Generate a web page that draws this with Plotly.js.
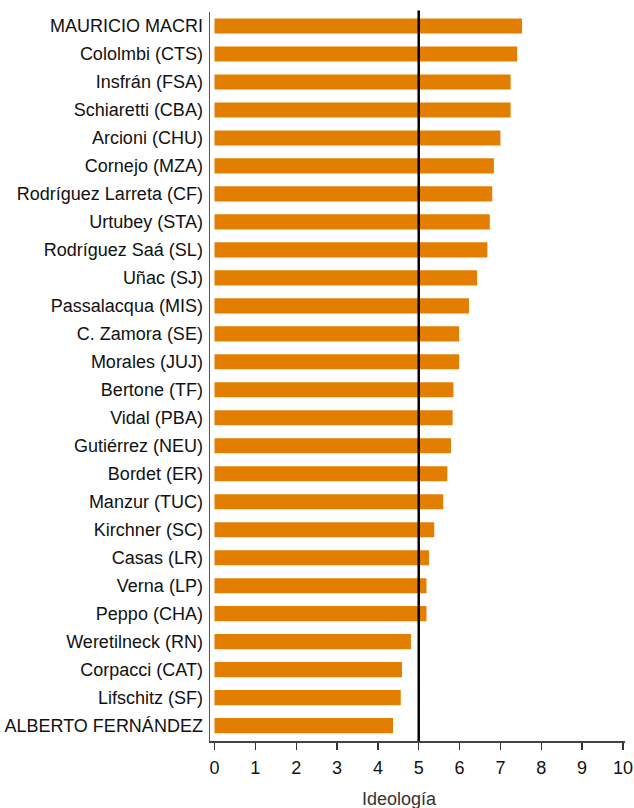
<!DOCTYPE html>
<html>
<head>
<meta charset="utf-8">
<script src="https://cdn.plot.ly/plotly-3.0.1.min.js"></script>
<style>html,body{margin:0;padding:0;background:#fff;}#chart{width:634px;height:808px;}</style>
</head>
<body>
<div id="chart"></div>
<script>
var names = [
  "MAURICIO MACRI", "Cololmbi (CTS)", "Insfrán (FSA)", "Schiaretti (CBA)", "Arcioni (CHU)",
  "Cornejo (MZA)", "Rodríguez Larreta (CF)", "Urtubey (STA)", "Rodríguez Saá (SL)", "Uñac (SJ)",
  "Passalacqua (MIS)", "C. Zamora (SE)", "Morales (JUJ)", "Bertone (TF)", "Vidal (PBA)",
  "Gutiérrez (NEU)", "Bordet (ER)", "Manzur (TUC)", "Kirchner (SC)", "Casas (LR)",
  "Verna (LP)", "Peppo (CHA)", "Weretilneck (RN)", "Corpacci (CAT)", "Lifschitz (SF)",
  "ALBERTO FERNÁNDEZ"
];
var ideologia = [
  7.53, 7.41, 7.25, 7.25, 7.00,
  6.84, 6.80, 6.74, 6.68, 6.43,
  6.23, 5.99, 5.99, 5.85, 5.83,
  5.79, 5.70, 5.60, 5.38, 5.25,
  5.19, 5.19, 4.81, 4.59, 4.56,
  4.37
];
var xTicks = [0, 1, 2, 3, 4, 5, 6, 7, 8, 9, 10];
var referenceValue = 5;
var xTitle = "Ideología";

var fam = "Liberation Sans, Arial, sans-serif";
var font = {family: fam, size: 18, color: "#111"};

var trace = {
  type: "bar",
  orientation: "h",
  x: ideologia,
  y: names,
  width: 0.54,
  marker: {color: "#E27E00", line: {width: 0}},
  hoverinfo: "x+y"
};

var layout = {
  width: 634,
  height: 808,
  margin: {l: 210, r: 9, t: 12, b: 67},
  paper_bgcolor: "#fff",
  plot_bgcolor: "#fff",
  showlegend: false,
  font: font,
  xaxis: {
    range: [-0.11, 10.05],
    tickvals: xTicks,
    ticktext: xTicks.map(String),
    ticks: "outside",
    ticklen: 7,
    tickwidth: 1.3,
    tickcolor: "#333",
    showline: true,
    linecolor: "#444",
    linewidth: 1.5,
    showgrid: false,
    zeroline: false,
    tickfont: font,
    ticklabelstandoff: 3,
    fixedrange: true
  },
  yaxis: {
    type: "category",
    categoryorder: "array",
    categoryarray: names,
    range: [25.55, -0.5],
    ticks: "",
    showline: true,
    linecolor: "#555",
    linewidth: 1.5,
    showgrid: false,
    zeroline: false,
    tickfont: font,
    ticklabelstandoff: 2,
    fixedrange: true
  },
  shapes: [{
    type: "line",
    xref: "x", yref: "paper",
    x0: referenceValue, x1: referenceValue, y0: 0, y1: 1.002,
    line: {color: "#000", width: 2.5}
  }],
  annotations: [{
    text: xTitle,
    xref: "x", yref: "paper",
    x: 4.53, y: 0, yshift: -58,
    xanchor: "center", yanchor: "middle",
    showarrow: false,
    font: {family: fam, size: 18, color: "#333"}
  }]
};

Plotly.newPlot("chart", [trace], layout, {staticPlot: true, displayModeBar: false});
</script>
</body>
</html>
